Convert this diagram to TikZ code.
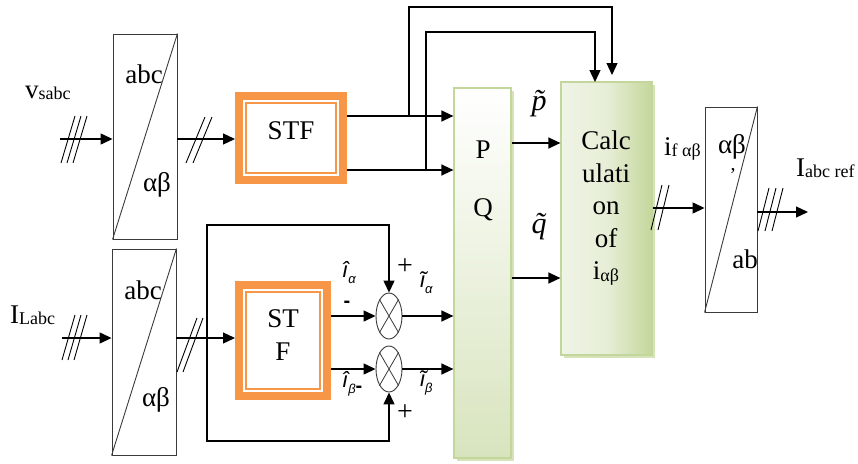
\documentclass[tikz,border=0pt]{standalone}
\usepackage{fontspec}
\setmainfont{Liberation Serif}
\setsansfont{Liberation Sans}
\usetikzlibrary{arrows.meta,shapes.geometric,shadows}
\definecolor{stforange}{HTML}{F79646}
\definecolor{gborder}{HTML}{C3D69B}
\definecolor{gdark}{HTML}{C4D79B}
\definecolor{glight}{HTML}{EFF4E6}
\definecolor{gbottom}{HTML}{D8E4BE}
\definecolor{boxline}{HTML}{3A3A3A}
\newcommand\setfs[1]{\fontsize{#1}{#1}\selectfont}
\newcommand\subtx[1]{\raisebox{-1.5pt}{\setfs{18}#1}}
\newcommand\smallsub[1]{\raisebox{-6pt}{\setfs{13}\sffamily\itshape #1}}
\begin{document}
\begin{tikzpicture}[x=1pt,y=-1pt,
  conv/.style={draw=boxline, line width=0.9pt, inner sep=0pt},
  stfbox/.style={draw=stforange, line width=8pt, fill=white, inner sep=0pt,
    path picture={\draw[stforange, line width=1.5pt]
      ([shift={(7pt,7pt)}]path picture bounding box.south west) rectangle
      ([shift={(-7pt,-7pt)}]path picture bounding box.north east);}},
  pqbox/.style={draw=gborder, line width=1.2pt, top color=white, bottom color=gbottom,
    inner sep=0pt, drop shadow={shadow xshift=2.5pt, shadow yshift=-2.5pt, fill=gdark, opacity=0.7}},
  calcbox/.style={draw=gborder, line width=1.2pt, left color=glight, right color=gdark,
    middle color=glight!80!gdark, inner sep=0pt,
    drop shadow={shadow xshift=2.5pt, shadow yshift=-2.5pt, fill=gdark, opacity=0.7}},
  mult/.style={ellipse, draw=boxline, line width=0.9pt, fill=white, inner sep=0pt,
    minimum width=26pt, minimum height=46pt},
  txt/.style={inner sep=0pt, font=\setfs{27}},
  sgn/.style={inner sep=0pt, font=\setfs{28}},
  lbl/.style={inner sep=0pt, font=\setfs{22}\sffamily\itshape},
  tl/.style={inner sep=0pt, font=\setfs{30}\itshape},
  arr/.style={-{Triangle[length=12pt,width=11pt]}, line width=1.3pt},
  slashln/.style={line width=0.9pt}
]
\useasboundingbox (0,0) rectangle (858,463);

% ---- blocks ----
\node[conv, minimum width=64pt, minimum height=205pt] (conv1) at (145,136.5) {};
\draw[boxline, line width=0.9pt] (conv1.south west) -- (conv1.north east);
\node[conv, minimum width=64pt, minimum height=206pt] (conv2) at (144,352) {};
\draw[boxline, line width=0.9pt] (conv2.south west) -- (conv2.north east);
\node[conv, minimum width=52pt, minimum height=205pt] (conv3) at (731,209.5) {};
\draw[boxline, line width=0.9pt] (conv3.south west) -- (conv3.north east);

\node[stfbox, minimum width=104pt, minimum height=84pt] (stf1) at (291,138) {};
\node[stfbox, minimum width=88pt, minimum height=111pt] (stf2) at (283,340.5) {};

\node[pqbox, minimum width=57pt, minimum height=370pt] (pq) at (482.5,273) {};
\node[calcbox, minimum width=91pt, minimum height=273pt] (calc) at (606.5,218.5) {};

\node[mult] (mult1) at (389,316) {};
\draw[boxline, line width=0.8pt] (mult1.120) -- (mult1.300) (mult1.60) -- (mult1.240);
\node[mult] (mult2) at (389,369) {};
\draw[boxline, line width=0.8pt] (mult2.120) -- (mult2.300) (mult2.60) -- (mult2.240);

% ---- coordinates ----
\coordinate (vin) at (60,139);
\coordinate (iin) at (62,338);
\coordinate (b1) at (409,116);
\coordinate (b1t) at (409,7);
\coordinate (c1end) at (612,75);
\coordinate (b2) at (426,170);
\coordinate (b2t) at (426,32);
\coordinate (c2end) at (595,82);
\coordinate (prow) at (530,143);
\coordinate (qrow) at (530,278);
\coordinate (orow) at (680,208);
\coordinate (outend) at (808,212);
\coordinate (fbj) at (207,338);
\coordinate (fbt) at (207,225);
\coordinate (fbb) at (207,441);

% ---- connectors ----
\draw[arr] (vin) -- (conv1.west |- vin);
\draw[arr] (conv1.east |- vin) -- (stf1.west |- vin);
\draw[arr] (stf1.east |- b1) -- (pq.west |- b1);
\draw[arr] (stf1.east |- b2) -- (pq.west |- b2);
\draw[arr] (b1) -- (b1t) -| (c1end);
\draw[arr] (b2) -- (b2t) -| (c2end);
\draw[arr] (pq.east |- prow) -- (calc.west |- prow);
\draw[arr] (pq.east |- qrow) -- (calc.west |- qrow);
\draw[arr] (calc.east |- orow) -- (conv3.west |- orow);
\draw[arr] (conv3.east |- outend) -- (outend);

\draw[arr] (iin) -- (conv2.west |- iin);
\draw[arr] (conv2.east |- iin) -- (stf2.west |- iin);
\draw[arr] (fbj) -- (fbt) -| (mult1.north);
\draw[arr] (fbj) -- (fbb) -| (mult2.south);
\draw[arr] (stf2.east |- mult1) -- (mult1.west);
\draw[arr] (stf2.east |- mult2) -- (mult2.west);
\draw[arr] (mult1.east) -- (pq.west |- mult1);
\draw[arr] (mult2.east) -- (pq.west |- mult2);

% ---- slash marks ----
\foreach \k in {0,1,2} \draw[slashln] (61+6*\k,163) -- (75+6*\k,116);
\foreach \k in {0,1} \draw[slashln] (186+7*\k,163) -- (205+7*\k,117);
\foreach \k in {0,1,2} \draw[slashln] (62+6*\k,360) -- (75+6*\k,315);
\foreach \k in {0,1} \draw[slashln] (177+6*\k,372) -- (197+6*\k,318);
\foreach \k in {0,1} \draw[slashln] (651+7*\k,230) -- (662+7*\k,185);
\foreach \k in {0,1,2} \draw[slashln] (758+7*\k,231) -- (769+7*\k,188);

% ---- texts ----
\node[txt, anchor=base west] (vlab) at (25,98) {v\subtx{sabc}};
\node[txt, anchor=base west] (ilab) at (10,323) {I\subtx{Labc}};
\node[txt] (c1abc) at (144,74) {abc};
\node[txt] (c1ab) at (157,185) {αβ};
\node[txt] (c2abc) at (143,290) {abc};
\node[txt] (c2ab) at (156,400) {αβ};
\node[txt] (c3ab) at (732,147) {αβ};
\node[inner sep=0pt, font=\setfs{20}, anchor=base] (c3comma) at (733,170) {,};
\node[txt] (c3abc) at (745,259) {ab};
\node[txt] (stf1t) at (291,131) {STF};
\node[txt, align=center] (stf2t) at (283,335) {ST\\[6pt]F};
\node[txt] (pt) at (483,150) {P};
\node[txt] (qt) at (483,210) {Q};
\node[txt, align=center, font=\fontsize{27}{32.5}\selectfont] (calct) at (606,208)
  {Calc\\ulati\\on\\of\\i\subtx{αβ}};
\node[tl, anchor=base] (ptil) at (539,110) {\~{p}};
\node[tl, anchor=base] (qtil) at (539,233) {\~{q}};
\node[txt, anchor=base west] (iflab) at (664,155) {i\subtx{f αβ}};
\node[txt, anchor=base west] (irlab) at (796,176) {I\subtx{abc ref}};

\node[lbl, anchor=base west] (iahat) at (342,277) {\^{\i}\smallsub{α}};
\node[lbl, anchor=base west] (iatil) at (420,287) {\~{\i}\smallsub{α}};
\node[lbl, anchor=base west] (ibhat) at (342,387) {\^{\i}\smallsub{β}\raisebox{-5pt}{\setfs{20}\upshape\bfseries -}};
\node[lbl, anchor=base west] (ibtil) at (420,386) {\~{\i}\smallsub{β}};
\node[sgn] (plus1) at (405,267) {+};
\node[sgn] (plus2) at (405,413) {+};
\node[inner sep=0pt, font=\setfs{20}\sffamily\bfseries] (minus1) at (347,304) {-};
\end{tikzpicture}
\end{document}
